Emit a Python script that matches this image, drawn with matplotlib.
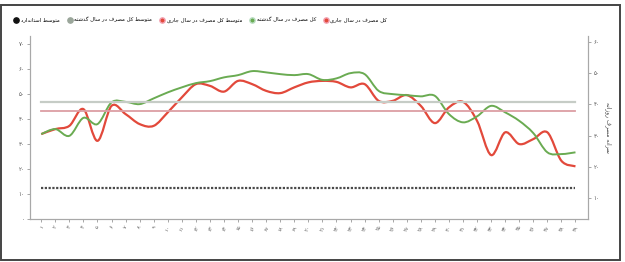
import matplotlib
matplotlib.use("Agg")
import matplotlib.pyplot as plt
from matplotlib.path import Path
from matplotlib.patches import PathPatch, Rectangle
from matplotlib.lines import Line2D

# data (left axis units)
weeks = list(range(1, 40))
current_year = [34, 36, 37.3, 44, 31.3, 45.3, 42, 38, 37.3, 42.7, 48.7, 54, 53.3,
                51, 55.3, 54, 51.3, 50.4, 52.7, 54.7, 55.3, 54.9, 52.7, 54, 47.3,
                47.3, 49.6, 45.3, 38.4, 44.7, 46.9, 39.3, 25.6, 34.7, 30, 32, 34.7,
                23.3, 21.1]
last_year = [34, 36, 33.3, 40.5, 38, 46.7, 46.9, 46, 48.3, 50.7, 52.7, 54.4, 55.2,
             56.7, 57.6, 59.2, 58.7, 58, 57.6, 58, 55.7, 56.3, 58.4, 58, 51.3, 50,
             49.6, 49.1, 49.3, 42, 38.7, 41.1, 45.3, 42.7, 39.3, 34.4, 26.7, 26,
             26.7]
avg_last = 46.8
avg_current = 43.3
standard = 12.4

left_ticks = [0, 10, 20, 30, 40, 50, 60, 70]
right_ticks = [10, 20, 30, 40, 50, 60]

lbl_current = "کل مصرف در سال جاری"
lbl_last = "کل مصرف در سال گذشته"
lbl_avg_current = "متوسط کل مصرف در سال جاری"
lbl_avg_last = "متوسط کل مصرف در سال گذشته"
lbl_standard = "متوسط استاندارد"
lbl_right = "سرانه مصرف روزانه"

FA_DIGITS = str.maketrans("0123456789", "۰۱۲۳۴۵۶۷۸۹")

# contextual forms: isolated, final, initial, medial
FORMS = {
    'ا': (0xFE8D, 0xFE8E, None, None), 'ب': (0xFE8F, 0xFE90, 0xFE91, 0xFE92),
    'ت': (0xFE95, 0xFE96, 0xFE97, 0xFE98), 'ج': (0xFE9D, 0xFE9E, 0xFE9F, 0xFEA0),
    'د': (0xFEA9, 0xFEAA, None, None), 'ذ': (0xFEAB, 0xFEAC, None, None),
    'ر': (0xFEAD, 0xFEAE, None, None), 'ز': (0xFEAF, 0xFEB0, None, None),
    'س': (0xFEB1, 0xFEB2, 0xFEB3, 0xFEB4), 'ش': (0xFEB5, 0xFEB6, 0xFEB7, 0xFEB8),
    'ص': (0xFEB9, 0xFEBA, 0xFEBB, 0xFEBC), 'ط': (0xFEC1, 0xFEC2, 0xFEC3, 0xFEC4),
    'ف': (0xFED1, 0xFED2, 0xFED3, 0xFED4), 'ل': (0xFEDD, 0xFEDE, 0xFEDF, 0xFEE0),
    'م': (0xFEE1, 0xFEE2, 0xFEE3, 0xFEE4), 'ن': (0xFEE5, 0xFEE6, 0xFEE7, 0xFEE8),
    'ه': (0xFEE9, 0xFEEA, 0xFEEB, 0xFEEC), 'و': (0xFEED, 0xFEEE, None, None),
    'ک': (0xFB8E, 0xFB8F, 0xFB90, 0xFB91), 'گ': (0xFB92, 0xFB93, 0xFB94, 0xFB95),
    'ی': (0xFBFC, 0xFBFD, 0xFBFE, 0xFBFF),
}


def fa(text):
    # join letters and flip to visual order, since matplotlib has no bidi
    out = []
    for i, ch in enumerate(text):
        if ch not in FORMS:
            out.append(ch)
            continue
        prev = text[i - 1] if i > 0 else ""
        nxt = text[i + 1] if i + 1 < len(text) else ""
        jp = prev in FORMS and FORMS[prev][2] is not None
        jn = FORMS[ch][2] is not None and nxt in FORMS
        f = FORMS[ch]
        code = f[3] if (jp and jn) else f[1] if jp else f[2] if jn else f[0]
        out.append(chr(code))
    return "".join(out[::-1])


def smooth(xs, ys):
    # excel-like smoothed line as cubic bezier segments
    n = len(xs)
    verts = [(xs[0], ys[0])]
    codes = [Path.MOVETO]
    for i in range(n - 1):
        a = max(i - 1, 0)
        b = min(i + 2, n - 1)
        c1 = (xs[i] + (xs[i + 1] - xs[a]) / 6, ys[i] + (ys[i + 1] - ys[a]) / 6)
        c2 = (xs[i + 1] - (xs[b] - xs[i]) / 6, ys[i + 1] - (ys[b] - ys[i]) / 6)
        verts += [c1, c2, (xs[i + 1], ys[i + 1])]
        codes += [Path.CURVE4] * 3
    return Path(verts, codes)


plt.rcParams['font.family'] = ['DejaVu Sans']

fig = plt.figure(figsize=(6.25, 2.62), dpi=100)
ax = fig.add_axes([0.048, 0.164, 0.893, 0.698])
x = list(range(len(weeks)))

green = "#6aab52"
red = "#e2493b"
ax.plot(x, [avg_last] * len(x), color="#c6ccc6", lw=1.6)
ax.plot(x, [avg_current] * len(x), color="#dc9ea4", lw=1.3)
ax.plot(x, [standard] * len(x), color="#4a4a4a", lw=1.6, dashes=(1.0, 0.7))
ax.add_patch(PathPatch(smooth(x, current_year), fill=False, edgecolor=red, lw=1.6))
ax.add_patch(PathPatch(smooth(x, last_year), fill=False, edgecolor=green, lw=1.4))

ax.set_xlim(-0.8, 38.9)
ax.set_ylim(0, 73.2)
ax.set_xticks(x)
ax.set_xticklabels([str(w).translate(FA_DIGITS) for w in weeks], rotation=60,
                   fontsize=3.8, color="#555")
ax.set_yticks(left_ticks)
ax.set_yticklabels([str(t).translate(FA_DIGITS) for t in left_ticks], fontsize=4,
                   color="#555")
ax.tick_params(axis="both", length=2, width=0.6, color="#999", pad=2)

ax2 = ax.twinx()
ax2.set_ylim(3.28, 61.8)
ax2.set_yticks(right_ticks)
ax2.set_yticklabels([str(t).translate(FA_DIGITS) for t in right_ticks], fontsize=4,
                    color="#555")
ax2.tick_params(axis="y", length=2, width=0.6, color="#999", pad=2)
ax2.set_ylabel(fa(lbl_right), fontsize=4.2, rotation=270, labelpad=9, color="#444")

for a in (ax, ax2):
    a.spines["top"].set_visible(False)
    for s in ("left", "right", "bottom"):
        a.spines[s].set_color("#a8a8a8")
        a.spines[s].set_linewidth(0.8)

handles = [
    Line2D([], [], ls="none", marker="o", ms=3.8, color="#111"),
    Line2D([], [], ls="none", marker="o", ms=3.8, color="#9aa69a"),
    Line2D([], [], ls="none", marker="o", ms=3.8, color=red, mec="#f2a0b0"),
    Line2D([], [], ls="none", marker="o", ms=3.8, color=green, mec="#b8dcc0"),
    Line2D([], [], ls="none", marker="o", ms=3.8, color=red, mec="#f2a0b0"),
]
labels = [fa(lbl_standard), fa(lbl_avg_last), fa(lbl_avg_current), fa(lbl_last),
          fa(lbl_current)]
fig.legend(handles, labels, loc="center left", bbox_to_anchor=(0.015, 0.924), ncol=5,
           frameon=False, fontsize=3.9, handletextpad=0.4, columnspacing=1.5,
           handlelength=0.8)

fig.patches.append(Rectangle((0.002, 0.006), 0.99, 0.974, transform=fig.transFigure,
                             fill=False, edgecolor="#444", lw=1.4))

fig.savefig("out.png", dpi=100)
